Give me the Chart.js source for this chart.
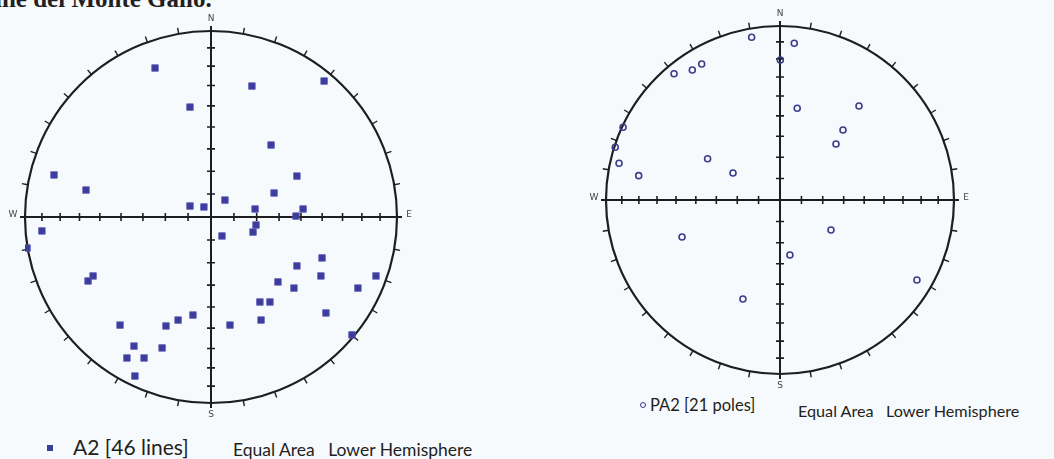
<!DOCTYPE html>
<html>
<head>
<meta charset="utf-8">
<script src="https://cdn.jsdelivr.net/npm/chart.js@4.4.1/dist/chart.umd.min.js"></script>
<style>
  html, body { margin: 0; padding: 0; background: #f7fafd; }
  body { width: 1054px; height: 459px; position: relative; overflow: hidden; }
  canvas { position: absolute; }
  .txt { position: absolute; white-space: nowrap; color: #231f20; font-family: Lato, "Open Sans", sans-serif; }
  .mk-sq { position: absolute; width: 6px; height: 6px; background: #3c3c9e; }
  .mk-ci { position: absolute; width: 4px; height: 4px; border: 1.6px solid #3c3c8e; border-radius: 50%; }
</style>
</head>
<body>
<div class="txt" style="left:-5px; top:-15px; font:bold 25px 'Liberation Serif', serif;">ine del Monte Gallo.</div>

<canvas id="netA2" width="412" height="412" style="left:5px; top:11px; width:412px; height:412px;"></canvas>
<canvas id="netPA2" width="388" height="388" style="left:586px; top:6px; width:388px; height:388px;"></canvas>

<div class="mk-sq" style="left:47px; top:445px;"></div>
<div class="txt" style="left:73px; top:434px; font-size:21px;">A2 [46 lines]</div>
<div class="txt" style="left:233px; top:439px; font-size:17.5px;">Equal Area&nbsp;&nbsp; Lower Hemisphere</div>

<div class="mk-ci" style="left:640px; top:402px;"></div>
<div class="txt" style="left:650px; top:395px; font-size:16.5px;">PA2 [21 poles]</div>
<div class="txt" style="left:798px; top:401px; font-size:16.2px;">Equal Area&nbsp;&nbsp; Lower Hemisphere</div>

<script>
// projected positions (unit circle, east / north)
const a2East = [-0.301, -0.113, 0.220, 0.608, -0.844, -0.672, 0.323, 0.462, 0.339, 0.075,
  -0.113, -0.038, 0.237, 0.495, 0.457, -0.909, -0.989, 0.242, 0.059, 0.226,
  -0.634, -0.661, 0.462, 0.597, 0.591, 0.887, 0.360, 0.446, 0.790, 0.263,
  0.317, 0.269, 0.618, -0.097, -0.177, -0.242, -0.489, 0.102, 0.758, -0.414,
  -0.263, -0.452, -0.360, -0.409];
const a2North = [0.801, 0.591, 0.704, 0.731, 0.226, 0.145, 0.387, 0.220, 0.129, 0.091,
  0.059, 0.054, 0.043, 0.043, 0.005, -0.075, -0.167, -0.043, -0.102, -0.081,
  -0.317, -0.344, -0.263, -0.220, -0.317, -0.317, -0.349, -0.382, -0.382, -0.457,
  -0.457, -0.554, -0.516, -0.527, -0.554, -0.586, -0.581, -0.581, -0.634, -0.694,
  -0.704, -0.758, -0.758, -0.855];

const pa2East = [-0.163, 0.082, 0.002, -0.609, -0.504, -0.450, 0.099, -0.902, -0.947, -0.925,
  -0.812, -0.416, -0.270, 0.454, 0.362, 0.322, -0.563, 0.293, 0.057, -0.213, 0.787];
const pa2North = [0.935, 0.901, 0.805, 0.726, 0.747, 0.782, 0.527, 0.418, 0.303, 0.211,
  0.140, 0.237, 0.155, 0.540, 0.402, 0.322, -0.213, -0.172, -0.316, -0.569, -0.460];

const compassLabels = ['N', 'E', 'S', 'W'];
const plungeSteps = [10, 20, 30, 40, 50, 60, 70, 80];

// draws the primitive circle, the N-S / E-W cross with equal-area plunge ticks
const stereonetFrame = {
  id: 'stereonetFrame',
  beforeDatasetsDraw(chart) {
    const { ctx, scales: { x, y } } = chart;
    const cx = x.getPixelForValue(0);
    const cy = y.getPixelForValue(0);
    const r = x.getPixelForValue(1) - cx;
    ctx.save();
    ctx.strokeStyle = '#1e1e1e';
    ctx.lineWidth = 2.2;
    ctx.beginPath();
    ctx.arc(cx, cy, r, 0, Math.PI * 2);
    ctx.stroke();

    // azimuth ticks every 10 degrees, outside the circle
    ctx.lineWidth = 1.4;
    for (let az = 10; az < 360; az += 10) {
      if (az % 90 === 0) continue;
      const a = az * Math.PI / 180;
      const sx = Math.sin(a), sy = -Math.cos(a);
      ctx.beginPath();
      ctx.moveTo(cx + sx * r, cy + sy * r);
      ctx.lineTo(cx + sx * (r + 6), cy + sy * (r + 6));
      ctx.stroke();
    }

    // cross
    ctx.lineWidth = 2;
    ctx.beginPath();
    ctx.moveTo(cx - r - 5, cy); ctx.lineTo(cx + r + 5, cy);
    ctx.moveTo(cx, cy - r - 5); ctx.lineTo(cx, cy + r + 5);
    ctx.stroke();

    ctx.lineWidth = 1.6;
    plungeSteps.forEach((p) => {
      const d = Math.SQRT2 * Math.sin((90 - p) / 2 * Math.PI / 180) * r;
      ctx.beginPath();
      ctx.moveTo(cx + d, cy - 4); ctx.lineTo(cx + d, cy + 4);
      ctx.moveTo(cx - d, cy - 4); ctx.lineTo(cx - d, cy + 4);
      ctx.moveTo(cx - 4, cy + d); ctx.lineTo(cx + 4, cy + d);
      ctx.moveTo(cx - 4, cy - d); ctx.lineTo(cx + 4, cy - d);
      ctx.stroke();
    });

    ctx.fillStyle = '#444';
    ctx.font = '9px "DejaVu Sans", sans-serif';
    ctx.textAlign = 'center';
    ctx.textBaseline = 'middle';
    ctx.fillText(compassLabels[0], cx, cy - r - 12);
    ctx.fillText(compassLabels[2], cx, cy + r + 12);
    ctx.fillText(compassLabels[1], cx + r + 12, cy - 2);
    ctx.fillText(compassLabels[3], cx - r - 12, cy - 2);
    ctx.restore();
  }
};

function makeNet(id, east, north, style) {
  const pts = east.map((e, i) => ({ x: e, y: north[i] }));
  return new Chart(document.getElementById(id), {
    type: 'scatter',
    data: { datasets: [Object.assign({ data: pts }, style)] },
    options: {
      responsive: false,
      animation: false,
      devicePixelRatio: 1,
      layout: { padding: 20 },
      plugins: { legend: { display: false }, tooltip: { enabled: false } },
      scales: {
        x: { min: -1, max: 1, display: false },
        y: { min: -1, max: 1, display: false },
      },
    },
    plugins: [stereonetFrame],
  });
}

makeNet('netA2', a2East, a2North, {
  pointStyle: 'rect',
  pointRadius: 4.6,
  backgroundColor: '#3c3c9e',
  borderColor: '#5656b0',
  borderWidth: 0.8,
});

makeNet('netPA2', pa2East, pa2North, {
  pointStyle: 'circle',
  pointRadius: 3,
  backgroundColor: 'rgba(0,0,0,0)',
  borderColor: '#3c3c8e',
  borderWidth: 1.6,
});
</script>
</body>
</html>
